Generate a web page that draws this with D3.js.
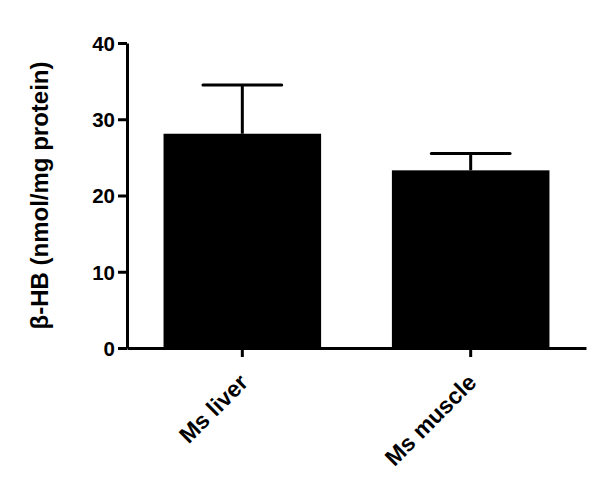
<!DOCTYPE html>
<html>
<head>
<meta charset="utf-8">
<script src="https://cdn.jsdelivr.net/npm/d3@7"></script>
<style>
  body { margin: 0; background: #fff; }
  svg text { font-family: "Liberation Sans", Arial, sans-serif; font-weight: bold; }
</style>
</head>
<body>
<div id="chart"></div>
<script>
const categories = ['Ms liver', 'Ms muscle'];
const means = [28.1, 23.3];
const errors = [6.4, 2.2];
const yTicks = [0, 10, 20, 30, 40];

const width = 600, height = 480;
const margin = { left: 127, right: 14, top: 43, bottom: 132 };

const svg = d3.select('#chart').append('svg')
  .attr('width', width)
  .attr('height', height);

const x = d3.scaleBand()
  .domain(categories)
  .range([margin.left, width - margin.right])
  .paddingInner(0.31)
  .paddingOuter(0.16);

const y = d3.scaleLinear()
  .domain([0, 40])
  .range([height - margin.bottom, margin.top]);

// barras
svg.append('g').selectAll('rect')
  .data(categories)
  .join('rect')
  .attr('x', d => x(d))
  .attr('y', (d, i) => y(means[i]))
  .attr('width', x.bandwidth())
  .attr('height', (d, i) => y(0) - y(means[i]))
  .attr('fill', '#000');

// barras de error (solo hacia arriba)
const eb = svg.append('g').attr('stroke', '#000').attr('stroke-width', 3);
categories.forEach((c, i) => {
  const cx = x(c) + x.bandwidth() / 2;
  const capW = x.bandwidth() / 2;
  eb.append('line')
    .attr('x1', cx).attr('x2', cx)
    .attr('y1', y(means[i])).attr('y2', y(means[i] + errors[i]));
  eb.append('line')
    .attr('x1', cx - capW / 2).attr('x2', cx + capW / 2)
    .attr('y1', y(means[i] + errors[i])).attr('y2', y(means[i] + errors[i]))
    .attr('stroke-linecap', 'round');
});

// eje Y
const yAxis = svg.append('g')
  .attr('transform', `translate(${margin.left},0)`)
  .call(d3.axisLeft(y).tickValues(yTicks).tickSize(9).tickPadding(3).tickSizeOuter(0));
yAxis.select('.domain').attr('stroke-width', 3);
yAxis.selectAll('.tick line').attr('stroke-width', 3);
yAxis.selectAll('.tick text').attr('font-size', 20.5).attr('dy', '0.36em');

// eje X
const xAxis = svg.append('g')
  .attr('transform', `translate(0,${height - margin.bottom})`)
  .call(d3.axisBottom(x).tickSize(9).tickSizeOuter(0));
xAxis.select('.domain').attr('stroke-width', 3);
xAxis.selectAll('.tick line').attr('stroke-width', 3);
xAxis.selectAll('.tick text')
  .attr('font-size', 23)
  .attr('text-anchor', 'end')
  .attr('x', 0)
  .attr('y', 0)
  .attr('dy', 0)
  .attr('transform', 'translate(7,36) rotate(-45)');

// título eje Y
svg.append('text')
  .attr('transform', `translate(48,${(margin.top + height - margin.bottom) / 2}) rotate(-90)`)
  .attr('text-anchor', 'middle')
  .attr('font-size', 24)
  .text('β-HB (nmol/mg protein)');
</script>
</body>
</html>
